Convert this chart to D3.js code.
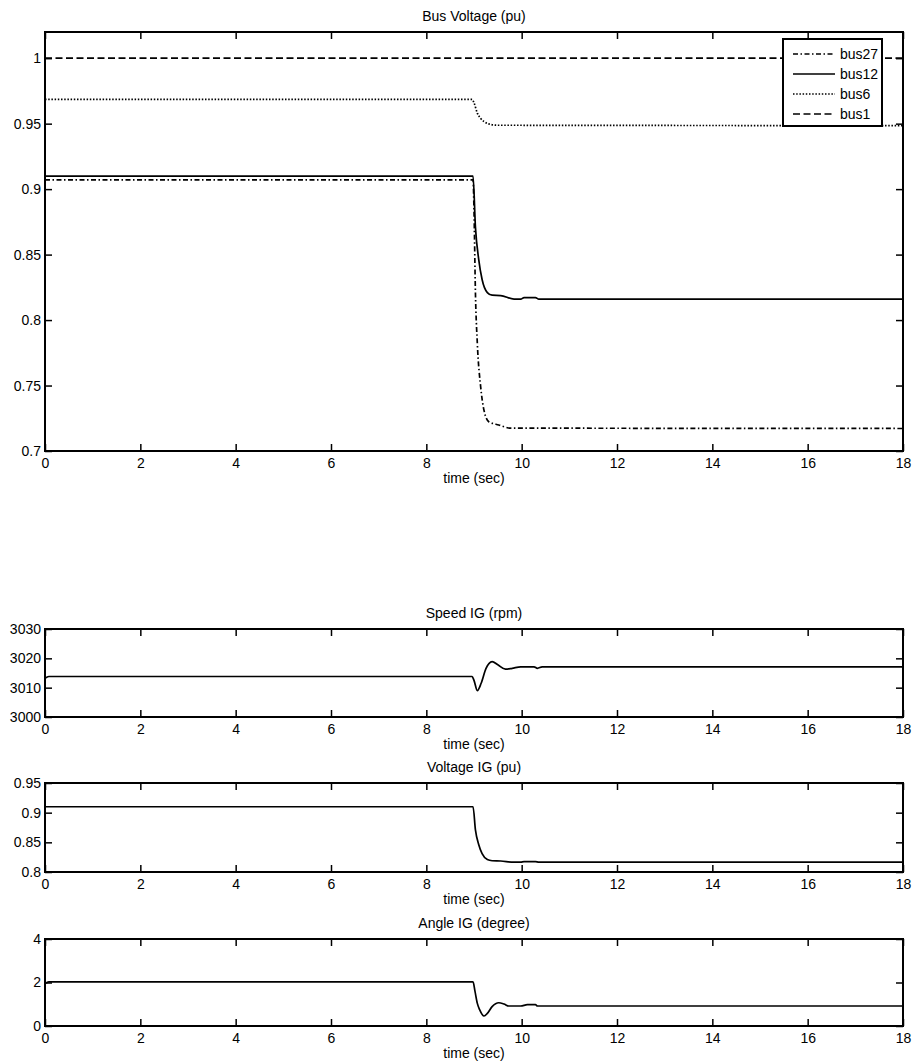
<!DOCTYPE html>
<html>
<head>
<meta charset="utf-8">
<script src="https://cdn.jsdelivr.net/npm/d3@7"></script>
<style>
  html, body { margin: 0; padding: 0; background: #fff; }
  svg { display: block; }
  text { font-family: "Liberation Sans", Arial, Helvetica, sans-serif; font-size: 14px; fill: #000; }
</style>
</head>
<body>
<svg id="fig" width="914" height="1064"></svg>
<script>
// ---- time axis ----
const timeTicks = [0, 2, 4, 6, 8, 10, 12, 14, 16, 18];

// ---- Bus voltages (pu), [time s, value] ----
const bus27 = [[0, 0.907], [8.98, 0.907], [9.0, 0.884], [9.03, 0.821], [9.07, 0.782], [9.14, 0.749],
  [9.21, 0.731], [9.31, 0.7224], [9.52, 0.7199], [9.77, 0.7175], [18, 0.7172]];
const bus12 = [[0, 0.910], [8.98, 0.910], [9.03, 0.871], [9.10, 0.846], [9.17, 0.831], [9.28, 0.821],
  [9.38, 0.819], [9.56, 0.8187], [9.84, 0.816], [9.98, 0.816], [10.05, 0.8172], [10.29, 0.8172],
  [10.36, 0.816], [18, 0.816]];
const bus6 = [[0, 0.9685], [8.96, 0.9685], [9.0, 0.966], [9.07, 0.958], [9.14, 0.954], [9.21, 0.9516],
  [9.31, 0.9498], [9.5, 0.9488], [18, 0.9485]];
const bus1 = [[0, 1.0], [18, 1.0]];
const busSeries = [
  { name: "bus27", data: bus27, dash: "5,2.5,1.5,2.5" },
  { name: "bus12", data: bus12, dash: null },
  { name: "bus6", data: bus6, dash: "1.5,1.7" },
  { name: "bus1", data: bus1, dash: "7,3.5" }
];
const busTicks = [0.7, 0.75, 0.8, 0.85, 0.9, 0.95, 1];

// ---- Induction generator speed (rpm) ----
const speedIG = [[0, 3013.2], [0.08, 3013.8], [8.96, 3013.8], [9.0, 3012.5], [9.07, 3009.0],
  [9.15, 3011.5], [9.25, 3016.5], [9.38, 3018.9], [9.5, 3017.8], [9.66, 3016.3], [9.8, 3016.6],
  [9.98, 3017.1], [10.26, 3017.1], [10.33, 3016.6], [10.43, 3017.1], [18, 3017.1]];
const speedTicks = [3000, 3010, 3020, 3030];

// ---- Induction generator terminal voltage (pu) ----
const voltageIG = [[0, 0.910], [8.98, 0.910], [9.03, 0.871], [9.10, 0.846], [9.17, 0.831], [9.28, 0.821],
  [9.38, 0.819], [9.56, 0.8185], [9.84, 0.8165], [9.98, 0.8165], [10.05, 0.8175], [10.29, 0.8175],
  [10.36, 0.8165], [18, 0.8165]];
const voltageTicks = [0.8, 0.85, 0.9, 0.95];

// ---- Induction generator rotor angle (degree) ----
const angleIG = [[0, 1.95], [0.08, 2.03], [8.98, 2.03], [9.02, 1.6], [9.07, 1.04], [9.12, 0.74],
  [9.21, 0.46], [9.28, 0.58], [9.38, 0.89], [9.52, 1.07], [9.63, 1.01], [9.73, 0.92], [9.98, 0.92],
  [10.12, 0.98], [10.29, 0.98], [10.33, 0.92], [18, 0.92]];
const angleTicks = [0, 2, 4];

const svg = d3.select("#fig");
const x0 = 45, x1 = 903;
const TICK = 7;

function panel(opts) {
  const { top, bottom, yDomain, yTicks, title, series } = opts;
  const x = d3.scaleLinear().domain([0, 18]).range([x0, x1]);
  const y = d3.scaleLinear().domain(yDomain).range([bottom, top]);
  const g = svg.append("g");

  const line = d3.line().x(d => x(d[0])).y(d => y(d[1])).curve(d3.curveMonotoneX);
  series.forEach(s => {
    g.append("path")
      .datum(s.data)
      .attr("d", line)
      .attr("fill", "none")
      .attr("stroke", "#000")
      .attr("stroke-width", 1.7)
      .attr("stroke-linejoin", "round")
      .attr("stroke-dasharray", s.dash || null);
  });

  const fmt = d3.format("~g");
  // bottom axis with labels, ticks pointing inward
  g.append("g").attr("transform", `translate(0,${bottom})`)
    .call(d3.axisBottom(x).tickValues(timeTicks).tickSizeInner(-TICK).tickSizeOuter(0).tickPadding(7).tickFormat(fmt))
    .call(a => a.select(".domain").remove());
  g.append("g").attr("transform", `translate(0,${top})`)
    .call(d3.axisTop(x).tickValues(timeTicks).tickSizeInner(-TICK).tickSizeOuter(0).tickFormat(""))
    .call(a => a.select(".domain").remove());
  g.append("g").attr("transform", `translate(${x0},0)`)
    .call(d3.axisLeft(y).tickValues(yTicks).tickSizeInner(-TICK).tickSizeOuter(0).tickPadding(4).tickFormat(fmt))
    .call(a => a.select(".domain").remove());
  g.append("g").attr("transform", `translate(${x1},0)`)
    .call(d3.axisRight(y).tickValues(yTicks).tickSizeInner(-TICK).tickSizeOuter(0).tickFormat(""))
    .call(a => a.select(".domain").remove());

  g.selectAll(".tick line").attr("stroke", "#000").attr("stroke-width", 1.5);
  g.selectAll(".tick text")
    .attr("font-family", "Liberation Sans, Arial, sans-serif")
    .attr("font-size", 14)
    .attr("fill", "#000");

  g.append("rect")
    .attr("x", x0).attr("y", top)
    .attr("width", x1 - x0).attr("height", bottom - top)
    .attr("fill", "none").attr("stroke", "#000").attr("stroke-width", 2);

  g.append("text")
    .attr("x", (x0 + x1) / 2).attr("y", top - 11)
    .attr("text-anchor", "middle")
    .text(title);
  g.append("text")
    .attr("x", (x0 + x1) / 2).attr("y", bottom + 32)
    .attr("text-anchor", "middle")
    .text("time (sec)");
  return { g, x, y };
}

panel({ top: 32, bottom: 451, yDomain: [0.7, 1.02], yTicks: busTicks, title: "Bus Voltage (pu)", series: busSeries });
panel({ top: 629, bottom: 717, yDomain: [3000, 3030], yTicks: speedTicks, title: "Speed IG (rpm)", series: [{ data: speedIG }] });
panel({ top: 783, bottom: 872, yDomain: [0.8, 0.95], yTicks: voltageTicks, title: "Voltage IG (pu)", series: [{ data: voltageIG }] });
panel({ top: 939, bottom: 1026, yDomain: [0, 4], yTicks: angleTicks, title: "Angle IG (degree)", series: [{ data: angleIG }] });

// legend for the bus voltage panel
const legend = svg.append("g");
legend.append("rect")
  .attr("x", 783).attr("y", 39).attr("width", 99).attr("height", 87)
  .attr("fill", "#fff").attr("stroke", "#000").attr("stroke-width", 2);
const legendY = d3.scalePoint().domain(busSeries.map(s => s.name)).range([54, 114]);
busSeries.forEach(s => {
  const yy = legendY(s.name);
  legend.append("line")
    .attr("x1", 793).attr("x2", 835).attr("y1", yy).attr("y2", yy)
    .attr("stroke", "#000").attr("stroke-width", 1.7)
    .attr("stroke-dasharray", s.dash || null);
  legend.append("text")
    .attr("x", 840).attr("y", yy).attr("dy", "0.35em")
    .text(s.name);
});
</script>
</body>
</html>
